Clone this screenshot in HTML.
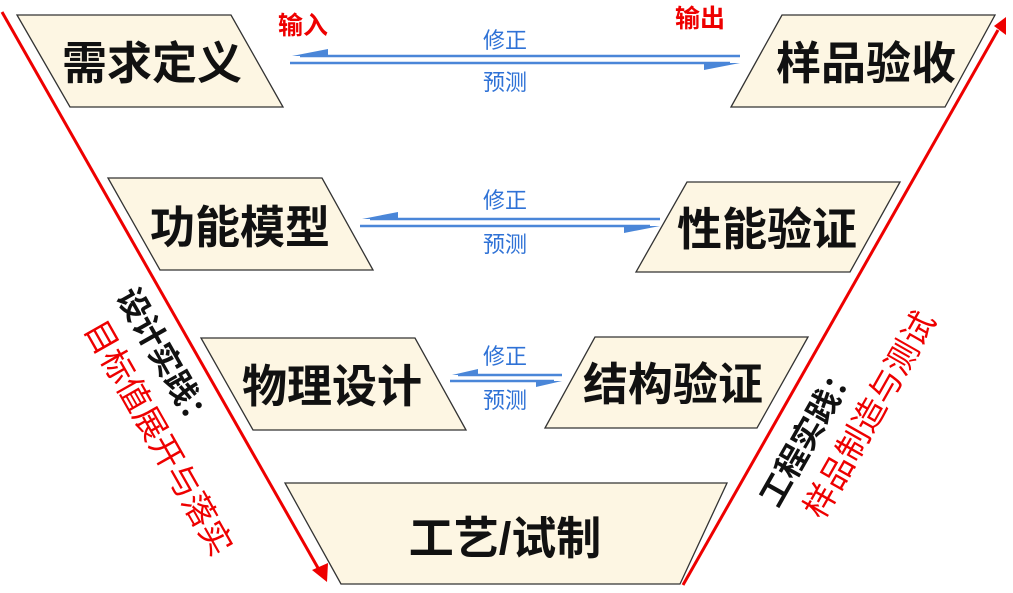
<!DOCTYPE html>
<html><head><meta charset="utf-8"><style>
body{margin:0;background:#fff;}
svg text{font-family:"Liberation Sans","Noto Sans CJK SC",sans-serif;}
</style></head><body>
<svg width="1013" height="588" viewBox="0 0 1013 588" xmlns="http://www.w3.org/2000/svg">
<g fill="#fdf6e3" stroke="#333" stroke-width="1.3">
<polygon points="17,15 231,15 283,107 70,107"/>
<polygon points="782,15 995,15 945,107 731,107"/>
<polygon points="108,178 322,178 373,270 160,270"/>
<polygon points="687,182 900,182 850,272 636,272"/>
<polygon points="201,338 415,338 466,430 253,430"/>
<polygon points="595,337 808,337 757,428 545,428"/>
<polygon points="285,483 727,483 680,584 341,584"/>
</g>
<g font-weight="bold" font-size="45" fill="#111" text-anchor="middle">
<text x="152" y="79">需求定义</text>
<text x="866" y="79">样品验收</text>
<text x="240" y="243">功能模型</text>
<text x="767" y="245">性能验证</text>
<text x="332" y="402">物理设计</text>
<text x="673" y="400">结构验证</text>
<text x="505" y="554">工艺/试制</text>
</g>
<line x1="2" y1="12" x2="318" y2="568" stroke="#e00" stroke-width="3"/>
<polygon points="312,570 327,582 328,563" fill="#e00"/>
<line x1="683" y1="585" x2="998" y2="30" stroke="#e00" stroke-width="3"/>
<polygon points="994,26 1006,17 1006,35" fill="#e00"/>
<g stroke="#4a86d8" stroke-width="2.5">
<line x1="300" y1="56" x2="740" y2="56"/><line x1="290" y1="63" x2="730" y2="63"/>
<line x1="370" y1="219" x2="660" y2="219"/><line x1="360" y1="226" x2="650" y2="226"/>
<line x1="458" y1="375" x2="562" y2="375"/><line x1="450" y1="381" x2="554" y2="381"/>
</g>
<g fill="#4a86d8">
<polygon points="292,56 328,49 328,56"/>
<polygon points="740,63 704,63 704,70"/>
<polygon points="362,219 398,212 398,219"/>
<polygon points="660,226 624,226 624,233"/>
<polygon points="452,375 478,369 478,375"/>
<polygon points="562,381 536,381 536,387"/>
</g>
<g font-size="22" fill="#2f72d6" text-anchor="middle">
<text x="505" y="48">修正</text><text x="505" y="90">预测</text>
<text x="505" y="208">修正</text><text x="505" y="252">预测</text>
<text x="505" y="364">修正</text><text x="505" y="408">预测</text>
</g>
<g font-size="25" font-weight="bold" fill="#e00" text-anchor="middle">
<text x="303" y="34">输入</text><text x="700" y="27">输出</text>
</g>
<g text-anchor="middle">
<text transform="translate(165,360) rotate(60.4)" font-size="32" font-weight="bold" fill="#111" dy="11">设计实践：</text>
<text transform="translate(158,438) rotate(60.4)" font-size="33" fill="#e00" dy="11">目标值展开与落实</text>
<text transform="translate(808,434) rotate(-60.4)" font-size="32" font-weight="bold" fill="#111" dy="11">工程实践：</text>
<text transform="translate(870,415) rotate(-60.4)" font-size="33" fill="#e00" dy="11">样品制造与测试</text>
</g>
</svg>
</body></html>
